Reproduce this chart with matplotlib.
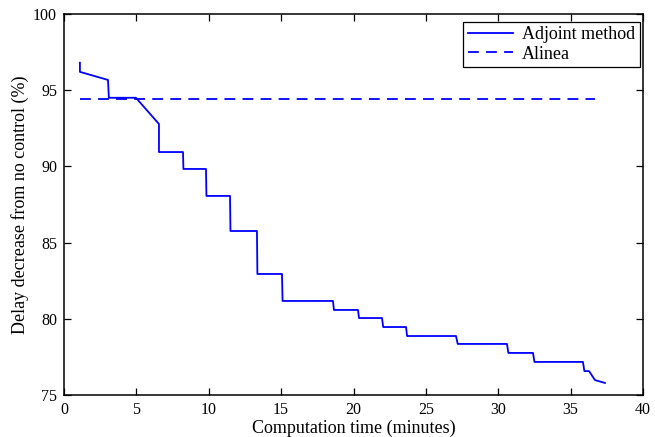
import matplotlib
matplotlib.use('Agg')
import matplotlib.pyplot as plt

plt.rcParams['font.family'] = 'Liberation Serif'
plt.rcParams['mathtext.fontset'] = 'stix'

# adjoint method: computation time (min) vs delay decrease (%)
adj_t = [1.1, 1.1, 3.04, 3.1, 4.97, 6.56, 6.56, 8.22, 8.25, 9.81, 9.84,
         11.47, 11.5, 13.33, 13.36, 15.06, 15.1, 18.58, 18.65, 20.31, 20.38,
         21.97, 22.05, 23.63, 23.7, 27.08, 27.2, 30.6, 30.7, 32.4, 32.5,
         35.85, 35.95, 36.27, 36.68, 37.37]
adj_d = [96.8, 96.2, 95.67, 94.5, 94.5, 92.78, 90.94, 90.94, 89.83, 89.83, 88.06,
         88.06, 85.76, 85.76, 82.94, 82.94, 81.17, 81.17, 80.58, 80.58, 80.05,
         80.05, 79.46, 79.46, 78.87, 78.87, 78.35, 78.35, 77.76, 77.76, 77.17,
         77.17, 76.57, 76.57, 75.98, 75.79]

# alinea reference level
alinea_t = [1.1, 36.7]
alinea_d = [94.45, 94.45]

fig = plt.figure(figsize=(6.55, 4.37), dpi=100)
ax = fig.add_axes([0.0977, 0.0961, 0.884, 0.872])

ax.plot(adj_t, adj_d, color='#0000ff', lw=1.3, label='Adjoint method')
ax.plot(alinea_t, alinea_d, color='#0000ff', lw=1.3, ls=(0, (6, 4)), label='Alinea')

ax.set_xlim(0, 40)
ax.set_ylim(75, 100)
ax.set_xticks(range(0, 41, 5))
ax.set_yticks(range(75, 101, 5))
ax.tick_params(direction='in', top=True, right=True, labelsize=11.5, length=5, width=0.9, pad=5)
for s in ax.spines.values():
    s.set_linewidth(1.1)

ax.set_xlabel('Computation time (minutes)', fontsize=13, labelpad=1)
ax.set_ylabel('Delay decrease from no control (%)', fontsize=13, labelpad=3)

leg = ax.legend(loc='upper right', bbox_to_anchor=(0.994, 0.98), fontsize=13,
                fancybox=False, framealpha=1, edgecolor='black', borderaxespad=0,
                handlelength=2.5, borderpad=0.25, labelspacing=0.15, handletextpad=0.5)
leg.get_frame().set_linewidth(0.9)

fig.savefig('out.png', dpi=100)
